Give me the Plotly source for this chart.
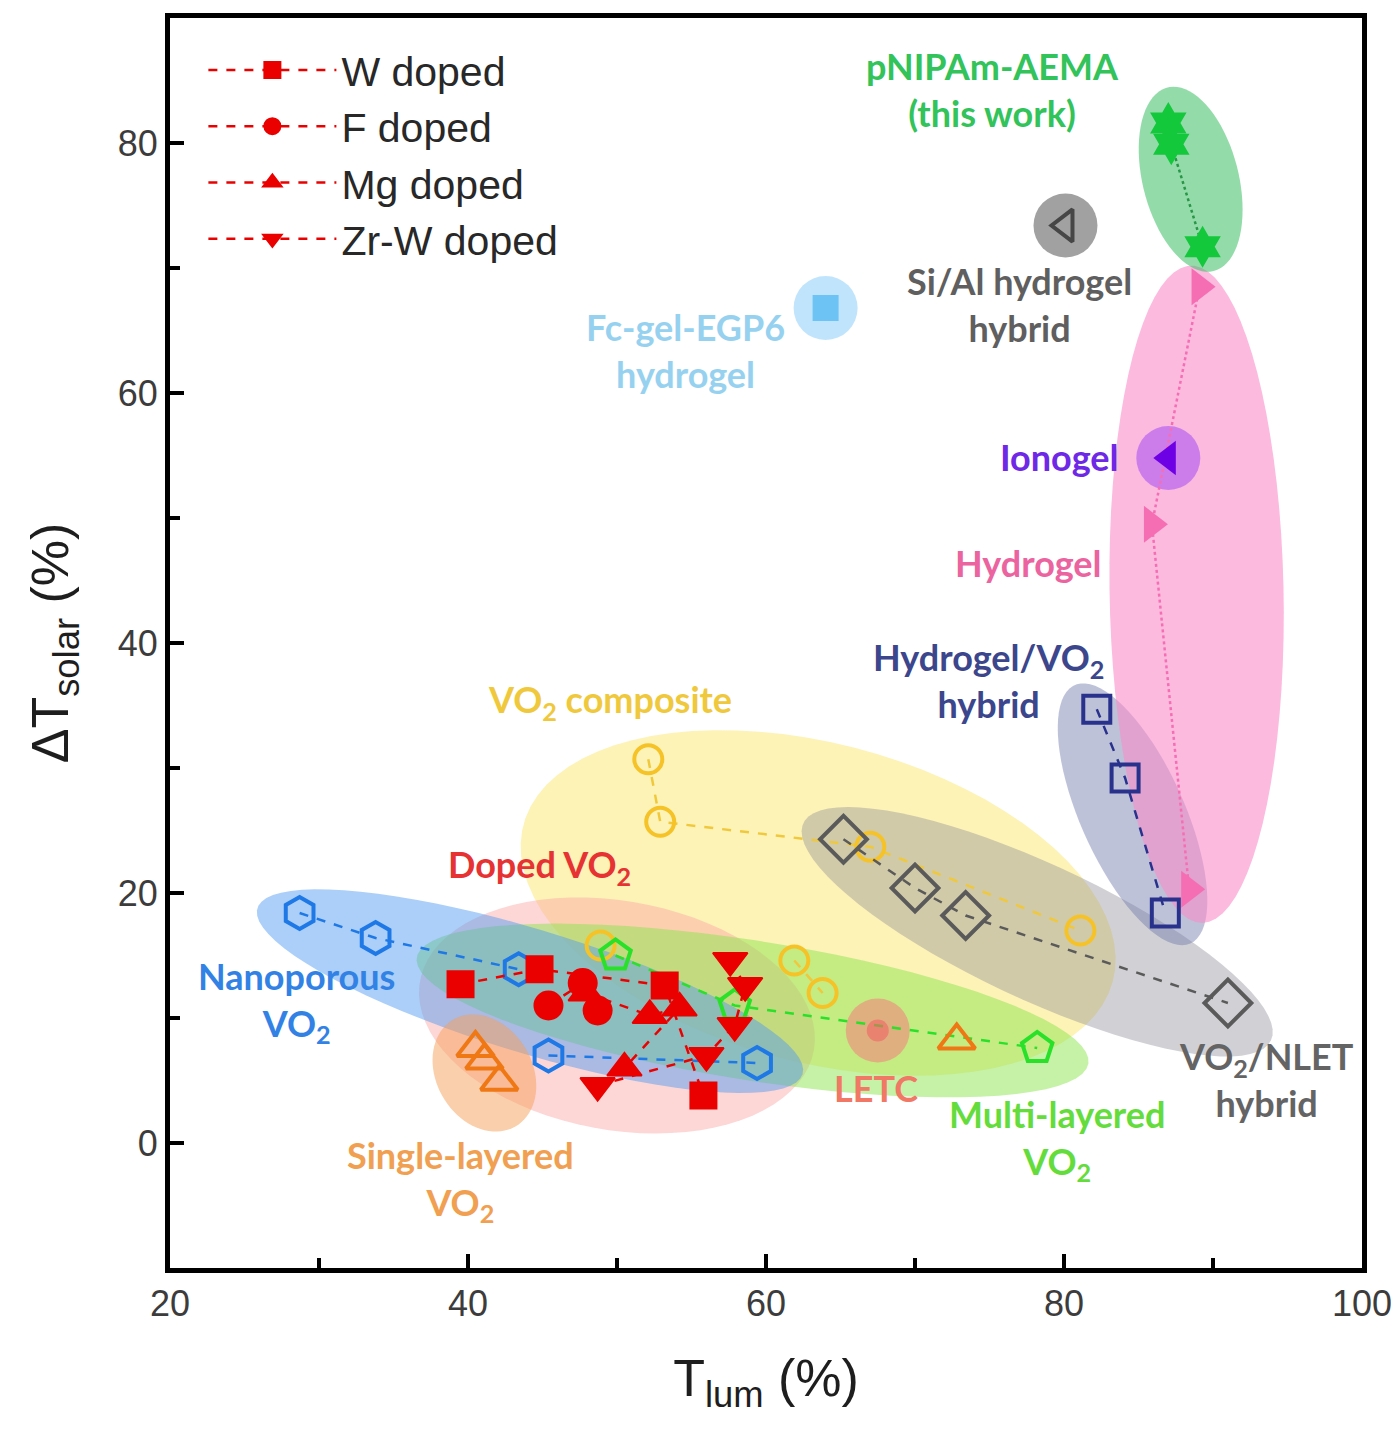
import numpy as np
import plotly.graph_objects as go

# ---------------- data ----------------
w_x = [39.5, 44.8, 53.2, 55.8]
w_y = [12.7, 13.9, 12.6, 3.8]
f_x = [45.4, 47.7, 48.7]
f_y = [11.0, 12.8, 10.6]
mg_x = [47.9, 52.2, 54.2, 50.5]
mg_y = [12.0, 10.2, 10.8, 6.0]
zrw_x = [57.6, 58.6, 57.9, 56.0, 48.7]
zrw_y = [14.6, 12.6, 9.4, 7.0, 4.6]

nano_x = [28.7, 33.8, 43.4, None, 45.4, 59.4]
nano_y = [18.4, 16.4, 13.9, None, 7.0, 6.4]
multi_x = [49.9, 57.9, 78.2]
multi_y = [15.0, 11.0, 7.6]
single_x = [40.5, 41.1, 42.1, 72.8]
single_y = [7.6, 6.6, 4.9, 8.2]
comp_x = [52.1, 52.9, 67.0, 81.1, None, 48.9, None, 61.9, 63.8]
comp_y = [30.7, 25.7, 23.7, 17.0, None, 15.8, None, 14.6, 12.0]
nlet_x = [65.2, 70.0, 73.4, 91.0]
nlet_y = [24.3, 20.4, 18.2, 11.2]
hvo_x = [82.2, 84.1, 86.8]
hvo_y = [34.7, 29.2, 18.4]
hyd_x = [89.1, 85.9, 88.4]
hyd_y = [68.5, 49.5, 20.3]
pnipam_x = [87.0, 87.2, 89.3]
pnipam_y = [81.6, 79.9, 71.7]
sial_x, sial_y = [80.1], [73.4]
fc_x, fc_y = [64.0], [66.8]
iono_x, iono_y = [87.0], [54.8]
letc_x, letc_y = [67.5], [9.0]

x_ticks = [20, 40, 60, 80, 100]
y_ticks = [0, 20, 40, 60, 80]

# ---------------- figure ----------------
W, H = 1391, 1413
ML, MR, MT, MB = 162, 37, 5, 153
XR = [20, 100]
YR = [-10, 90]
xs = (W - ML - MR) / (XR[1] - XR[0])
ys = (H - MT - MB) / (YR[1] - YR[0])

def ellipse_path(cx, cy, a, b, ang, n=80):
    t = np.linspace(0, 2 * np.pi, n)
    th = np.deg2rad(ang)
    ux, uy = a * np.cos(t), b * np.sin(t)
    px = ux * np.cos(th) - uy * np.sin(th)
    py = ux * np.sin(th) + uy * np.cos(th)
    X = cx + px / xs
    Y = cy - py / ys
    return "M " + " L ".join(f"{x:.3f},{y:.3f}" for x, y in zip(X, Y)) + " Z"

# (cx, cy, a_px, b_px, angle, color)
ellipses = [
    (63.5, 19.2, 305, 160, 15, "rgba(252,232,110,0.50)"),
    (50.0, 10.2, 200, 115, 10, "rgba(250,165,165,0.45)"),
    (59.1, 10.6, 340, 70, 9, "rgba(140,230,80,0.50)"),
    (44.16, 12.15, 285, 62, 17, "rgba(80,155,240,0.48)"),
    (41.1, 5.6, 62, 48, 60, "rgba(245,160,90,0.50)"),
    (78.2, 16.9, 258, 68, 25, "rgba(140,140,150,0.40)"),
    (84.6, 26.3, 142, 52, 66, "rgba(110,120,170,0.45)"),
    (88.9, 43.9, 330, 87, 89, "rgba(248,140,200,0.60)"),
    (88.5, 77.1, 95, 48, 76, "rgba(60,190,100,0.55)"),
]
shapes = [dict(type="path", path=ellipse_path(*e[:5]), fillcolor=e[5],
               line=dict(width=0), layer="below", xref="x", yref="y")
          for e in ellipses]

fig = go.Figure()

def add(x, y, name, color, symbol, size=24, lw=4, dash="dash", mode="lines+markers",
        fill=None, legend=False, linecolor=None):
    fig.add_trace(go.Scatter(
        x=x, y=y, name=name, mode=mode, showlegend=legend,
        connectgaps=False,
        line=dict(color=linecolor or color, width=2.5, dash=dash),
        marker=dict(symbol=symbol, size=size, color=fill or color,
                    line=dict(color=color, width=lw)),
    ))

# halos
for hx, hy, hc in [(sial_x, sial_y, "rgba(110,110,110,0.65)"),
                   (fc_x, fc_y, "rgba(150,210,250,0.6)"),
                   (iono_x, iono_y, "rgba(185,100,240,0.7)"),
                   (letc_x, letc_y, "rgba(245,125,125,0.55)")]:
    fig.add_trace(go.Scatter(x=hx, y=hy, mode="markers", showlegend=False,
                             marker=dict(size=64, color=hc, line=dict(width=0))))

add(comp_x, comp_y, "VO2 composite", "rgb(245,195,40)", "circle-open", size=28, linecolor="rgb(240,200,60)")
add(nlet_x, nlet_y, "VO2/NLET", "rgb(90,90,90)", "diamond-open", size=36)
add(nano_x, nano_y, "Nanoporous", "rgb(30,120,230)", "hexagon-open", size=32)
add(multi_x, multi_y, "Multi-layered", "rgb(40,225,40)", "pentagon-open", size=32)
add(single_x, single_y, "Single-layered", "rgb(240,120,20)", "triangle-up-open", size=32, mode="markers")
add(hvo_x, hvo_y, "Hydrogel/VO2", "rgb(40,50,140)", "square-open", size=27)
add(hyd_x, hyd_y, "Hydrogel", "rgb(245,110,180)", "triangle-right", size=32, dash="dot", lw=0)
add(pnipam_x, pnipam_y, "pNIPAm", "rgb(20,200,60)", "hexagram", size=32, dash="dot", lw=0,
    linecolor="rgb(40,150,70)")
add(sial_x, sial_y, "Si/Al", "rgb(70,70,70)", "triangle-left-open", size=28, mode="markers")
add(fc_x, fc_y, "Fc", "rgb(110,195,245)", "square", size=26, mode="markers", lw=0)
add(iono_x, iono_y, "Ionogel", "rgb(110,0,230)", "triangle-left", size=30, mode="markers", lw=0)
add(letc_x, letc_y, "LETC", "rgba(240,100,100,0.6)", "circle", size=22, mode="markers", lw=0)

red = "rgb(235,0,0)"
add(w_x, w_y, "W doped", red, "square", size=26, lw=2, legend=True)
add(f_x, f_y, "F doped", red, "circle", size=28, lw=2, legend=True)
add(mg_x, mg_y, "Mg doped", red, "triangle-up", size=30, lw=2, legend=True)
add(zrw_x, zrw_y, "Zr-W doped", red, "triangle-down", size=30, lw=2, legend=True)

# labels
lab_font = "Lato"
labels = [
    (75.2, 84.3, "pNIPAm-AEMA<br>(this work)", "rgb(50,195,90)"),
    (77.0, 67.1, "Si/Al hydrogel<br>hybrid", "rgb(95,95,95)"),
    (54.6, 63.4, "Fc-gel-EGP6<br>hydrogel", "rgb(150,210,240)"),
    (79.7, 54.9, "Ionogel", "rgb(110,40,230)"),
    (77.6, 46.4, "Hydrogel", "rgb(235,100,160)"),
    (74.9, 37.0, "Hydrogel/VO<sub>2</sub><br>hybrid", "rgb(60,70,140)"),
    (49.5, 35.3, "VO<sub>2</sub> composite", "rgb(240,200,60)"),
    (44.8, 22.1, "Doped VO<sub>2</sub>", "rgb(230,50,50)"),
    (28.5, 11.3, "Nanoporous<br>VO<sub>2</sub>", "rgb(50,130,230)"),
    (67.4, 4.4, "LETC", "rgb(240,120,100)"),
    (79.5, 0.3, "Multi-layered<br>VO<sub>2</sub>", "rgb(100,220,60)"),
    (93.6, 5.1, "VO<sub>2</sub>/NLET<br>hybrid", "rgb(100,100,100)"),
    (39.5, -3.0, "Single-layered<br>VO<sub>2</sub>", "rgb(240,160,80)"),
]
annotations = [dict(x=x, y=y, xref="x", yref="y", text=f"<b>{t}</b>", showarrow=False,
                    font=dict(family=lab_font, size=36, color=c), align="center")
               for x, y, t, c in labels]

axis_common = dict(showline=True, linecolor="black", linewidth=5, mirror=True,
                   ticks="inside", ticklen=14, tickwidth=4, tickcolor="black",
                   showgrid=False, zeroline=False, ticklabeloverflow="allow",
                   tickfont=dict(family="Liberation Sans", size=36, color="rgb(60,60,60)"),
                   minor=dict(ticks="inside", ticklen=10, tickwidth=4, tickcolor="black"))

fig.update_layout(
    width=W, height=H,
    margin=dict(l=ML, r=MR, t=MT, b=MB),
    plot_bgcolor="white", paper_bgcolor="white",
    shapes=shapes, annotations=annotations,
    xaxis=dict(range=XR, tickvals=x_ticks, **axis_common,
               title=dict(text="T<sub>lum</sub> (%)", standoff=38,
                          font=dict(family="Liberation Sans", size=52, color="rgb(30,30,30)"))),
    yaxis=dict(range=YR, tickvals=y_ticks, **axis_common,
               title=dict(text="ΔT<sub>solar</sub> (%)", standoff=34,
                          font=dict(family="Liberation Sans", size=52, color="rgb(30,30,30)"))),
    legend=dict(x=0.028, y=0.985, xanchor="left", yanchor="top",
                bgcolor="rgba(0,0,0,0)", itemwidth=128,
                font=dict(family="Liberation Sans", size=41, color="rgb(40,40,40)")),
)
fig.update_xaxes(minor_dtick=10)
fig.update_yaxes(minor_dtick=10)

fig.write_html("out.html")
